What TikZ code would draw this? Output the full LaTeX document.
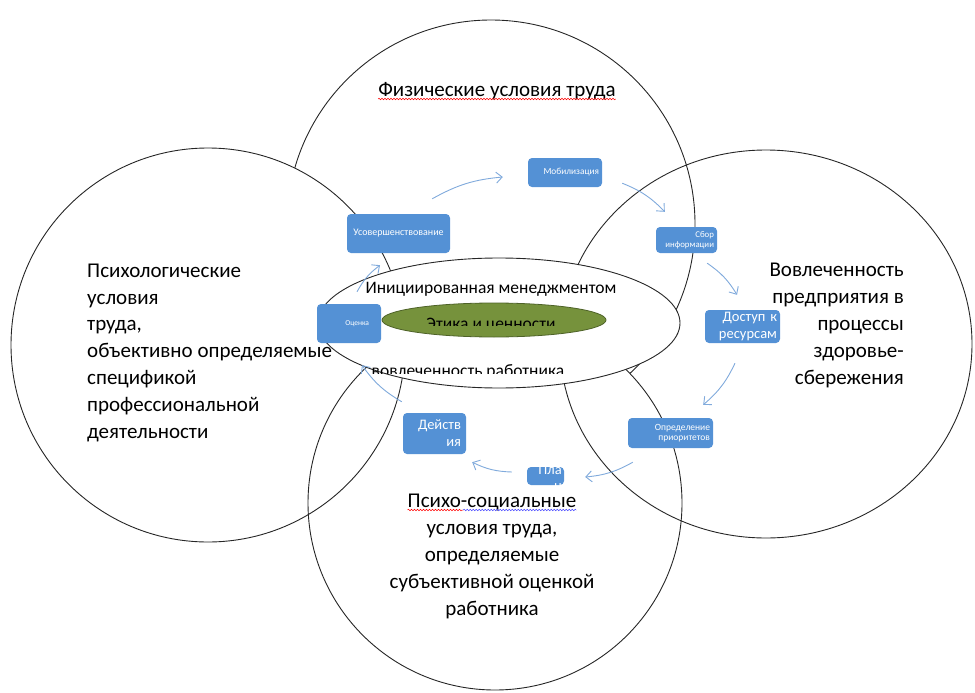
\documentclass[tikz,border=0pt]{standalone}
\usepackage{fontspec}
\setmainfont{Carlito}
\usetikzlibrary{positioning, arrows.meta, calc, decorations.pathmorphing}
\definecolor{boxblue}{RGB}{84,145,213}
\definecolor{flowblue}{RGB}{128,170,220}
\definecolor{olivefill}{RGB}{118,146,60}
\definecolor{olivedark}{RGB}{78,98,40}

\begin{document}
\begin{tikzpicture}[x=1pt, y=-1pt,
    ring/.style={draw=black!85, line width=0.9pt},
    box/.style={rectangle, rounded corners=4pt, fill=boxblue, text=white, inner xsep=3pt, inner ysep=1pt, align=right},
    flow/.style={draw=flowblue, line width=0.9pt, -{Straight Barb[length=6pt,width=11pt]}, bend left=12},
    bigtext/.style={font=\fontsize{21}{26.8}\selectfont, inner sep=0pt},
    midtext/.style={font=\fontsize{17.5}{20}\selectfont, inner sep=0pt},
    spell/.style={decorate, decoration={snake, amplitude=0.8pt, segment length=3pt}, line width=0.5pt}
  ]
  \useasboundingbox (0,0) rectangle (975,693);

  % circles
  \draw[ring] (491,224) circle [radius=204pt];
  \fill[white] (208,345) circle [radius=197pt];
  \draw[ring, fill=white] (495,503) circle [radius=187pt];
  \draw[ring] (208,345) circle [radius=197pt];
  \draw[ring] (766,344) ellipse [x radius=206pt, y radius=194pt];

  % central ellipse
  \draw[ring, fill=white] (499,323) ellipse [x radius=181pt, y radius=65pt];
  \draw[draw=olivedark, line width=0.8pt, fill=olivefill] (494,320) ellipse [x radius=112pt, y radius=17pt];

  \node[midtext, anchor=base] (init) at (491,293) {Инициированная менеджментом};
  \begin{scope}
    \clip (380,300) rectangle (610,325);
    \node[midtext, anchor=base] (etika) at (491,329) {Этика и ценности};
  \end{scope}
  \begin{scope}
    \clip (340,350) rectangle (620,373.5);
    \node[midtext, anchor=base] (vovlrab) at (468,376) {вовлеченность работника};
  \end{scope}

  % circle labels
  \node[bigtext, anchor=base] (fiz) at (497,96) {Физические условия труда};
  \node[bigtext, align=left, anchor=base west] (psych) at (87,438) {Психологические\\условия\\труда,\\объективно определяемые\\спецификой\\профессиональной\\деятельности};
  \node[bigtext, align=right, anchor=base east] (predp) at (904,384) {Вовлеченность\\предприятия в\\процессы\\здоровье-\\сбережения};
  \node[bigtext, anchor=base] (psyhead) at (492,507) {Психо-социальные};
  \node[bigtext, align=center, anchor=base] (psybody) at ([yshift=-108pt]psyhead.base) {условия труда,\\определяемые\\субъективной оценкой\\работника};

  \draw[spell, draw=red] ([yshift=-3pt]fiz.base west) -- ([yshift=-3pt]fiz.base east);
  \draw[spell, draw=red] ($(psyhead.base west)+(0,3)$) -- ($(psyhead.base west)!0.33!(psyhead.base east)+(0,3)$);
  \draw[spell, draw=blue!70] ($(psyhead.base west)!0.33!(psyhead.base east)+(0,3)$) -- ($(psyhead.base east)+(0,3)$);

  % cycle boxes
  \node[box, align=center, text width=97pt, minimum height=39pt, font=\fontsize{10}{11}\selectfont] (usov) at (398.5,233.5) {Усовершенствование};
  \node[box, text width=68pt, minimum height=29pt, font=\fontsize{9.3}{11}\selectfont] (mob) at (565,172.5) {Мобилизация};
  \node[box, text width=55pt, minimum height=26pt, font=\fontsize{8.8}{10}\selectfont] (sbor) at (686.5,240) {Сбор\\информации};
  \node[box, text width=69pt, minimum height=33pt, font=\fontsize{14.5}{16.5}\selectfont] (dost) at (742.5,326.5) {Доступ~к\\ресурсам};
  \node[box, text width=79pt, minimum height=30pt, font=\fontsize{9.5}{10.5}\selectfont] (opr) at (670.5,433) {Определение\\приоритетов};
  \node[box, text width=31pt, minimum height=18pt] (plan) at (545.5,476) {};
  \begin{scope}
    \clip (plan.south west) rectangle (plan.north east);
    \node[font=\fontsize{14.5}{16}\selectfont, text=white, inner sep=0pt, align=right, anchor=base east] (plantext) at (562,490) {Пла\\н};
  \end{scope}
  \node[box, text width=53pt, inner xsep=5pt, minimum height=41pt, font=\fontsize{14.5}{17}\selectfont] (deist) at (434.5,433.5) {Действ\\ия};
  \node[box, text width=40pt, minimum height=39pt, inner xsep=12pt, font=\fontsize{7.5}{9}\selectfont] (otsen) at (349,323.5) {Оценка};

  % cycle arrows
  \draw[flow] ([xshift=-18pt,yshift=15pt]usov.north east) to ([xshift=-25pt,yshift=-4.5pt]mob.west);
  \draw[flow] ([xshift=20pt,yshift=4pt]mob.south east) to ([xshift=9pt,yshift=15pt]sbor.north west);
  \draw[flow] ([xshift=-10pt,yshift=-10pt]sbor.south east) to ([xshift=-5.5pt,yshift=15pt]dost.north);
  \draw[flow] ([xshift=-7.5pt,yshift=-20pt]dost.south) to ([xshift=-10pt,yshift=13pt]opr.north east);
  \draw[flow] ([xshift=5pt,yshift=-14pt]opr.south west) to ([xshift=21pt,yshift=-1pt]plan.east);
  \draw[flow] ([xshift=-15pt,yshift=4pt]plan.west) to ([xshift=6pt,yshift=-8pt]deist.south east);
  \draw[flow] ([xshift=-1pt,yshift=11pt]deist.north west) to ([xshift=13pt,yshift=-22pt]otsen.south);
  \draw[flow] ([xshift=8pt,yshift=12pt]otsen.north) to ([xshift=-18.5pt,yshift=-12pt]usov.south);
\end{tikzpicture}
\end{document}
